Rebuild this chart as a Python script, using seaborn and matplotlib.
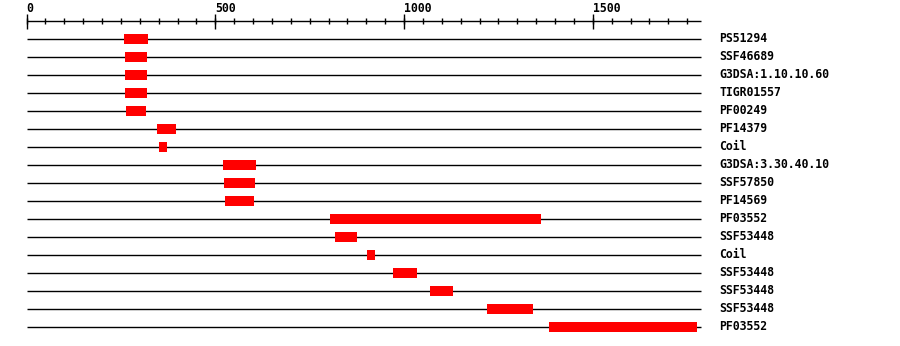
import matplotlib
matplotlib.use("Agg")
import matplotlib.pyplot as plt
import seaborn as sns
import numpy as np

# ---- data ----
labels = ["PS51294", "SSF46689", "G3DSA:1.10.10.60", "TIGR01557", "PF00249",
          "PF14379", "Coil", "G3DSA:3.30.40.10", "SSF57850", "PF14569",
          "PF03552", "SSF53448", "Coil", "SSF53448", "SSF53448", "SSF53448", "PF03552"]
starts = [259, 261, 261, 261, 263, 345, 351, 520, 523, 526, 803, 816, 901, 970, 1068, 1221, 1385]
ends = [321, 318, 318, 318, 316, 396, 371, 607, 605, 603, 1364, 875, 922, 1034, 1129, 1343, 1777]
seq_length = 1788
major_ticks = [0, 500, 1000, 1500]
minor_step = 50

sns.set_theme(style="white")
plt.rcParams["font.family"] = ["DejaVu Sans Mono", "DejaVu Sans"]

W, H = 900, 346
fig = plt.figure(figsize=(W / 100, H / 100), dpi=100)
ax = fig.add_axes([0, 0, 1, 1])
ax.set_axis_off()

origin_px, scale = 26.5, 0.3775
row0_px, row_step = 39.0, 18.0
ax.set_xlim(-origin_px / scale, (W - origin_px) / scale)
ax.set_ylim((H - row0_px) / row_step, -row0_px / row_step)

n = len(labels)
rows = np.arange(n)

# ruler
ax.hlines(-1, 0, seq_length, color="black", lw=1.0)
minor = np.arange(0, seq_length, minor_step)
ax.vlines(minor, -1 - 3.3 / 18, -1 + 3.3 / 18, color="black", lw=1.0)
ax.vlines(major_ticks, -1 - 7.5 / 18, -1 + 7.5 / 18, color="black", lw=1.0)
for t in major_ticks:
    ax.text(t, -1.72, str(t), ha="left", va="center", fontsize=8.3,
            fontweight="bold", color="black")

# rows
ax.hlines(rows, 0, seq_length, color="black", lw=1.0, zorder=1)
ax.barh(rows, np.array(ends) - np.array(starts), left=starts, height=0.52,
        color="#ff0000", edgecolor="none", zorder=2)
label_x = (719 - origin_px) / scale
for r, lab in zip(rows, labels):
    ax.text(label_x, r, lab, ha="left", va="center", fontsize=8.3,
            fontweight="bold", color="black")

fig.savefig("out.png", dpi=100, facecolor="white")
